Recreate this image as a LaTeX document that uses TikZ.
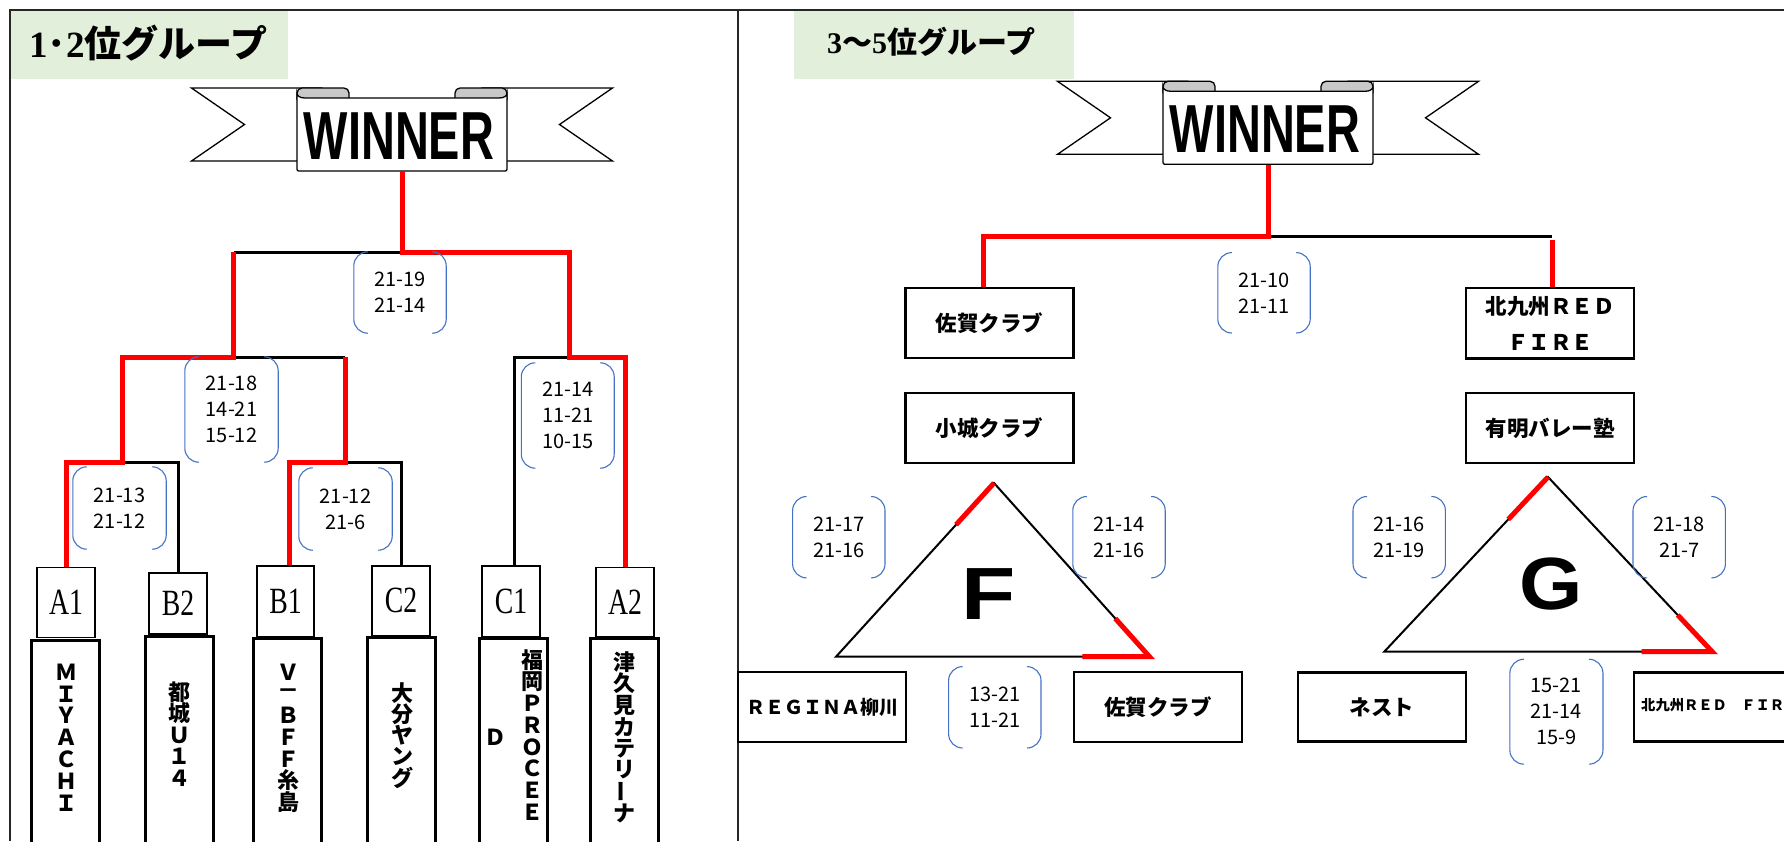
\documentclass[tikz,border=0pt]{standalone}
\usepackage{fontspec}
\usepackage{graphicx}
\usetikzlibrary{calc}
\newfontfamily\cjk{Noto Sans CJK JP}
\newfontfamily\lsans{Liberation Sans}
\newfontfamily\lserif{Liberation Serif}
\definecolor{tgreen}{HTML}{E2EFDA}
\definecolor{brkblue}{HTML}{4472C4}
\definecolor{tabgray}{HTML}{C8C8C8}
\newcommand\fs[1]{\fontsize{#1}{#1}\selectfont}
\newcommand\labtxt[1]{\scalebox{0.75}[1]{#1}}
\tikzset{
  frameline/.style={line width=1.8pt, black!85},
  bk/.style={line width=3pt, black},
  rd/.style={line width=5pt, red},
  brk/.style={draw=brkblue, line width=1.1pt, rounded corners=14pt},
  score/.style={inner sep=0pt, align=center, font=\cjk\fontsize{20}{26}\selectfont},
  lab/.style={draw, line width=1.4pt, inner sep=0pt, minimum width=58pt, font=\lserif\fs{37}},
  tall/.style={draw, fill=white, line width=3pt, inner sep=0pt, minimum width=68pt, minimum height=240pt, anchor=north},
  vch/.style={inner sep=0pt, font=\cjk\bfseries\fs{22}},
  team/.style={draw, fill=white, line width=2.5pt, inner sep=0pt, minimum width=168pt, minimum height=70pt, font=\cjk\bfseries\fs{21.5}, align=center},
  ribbon/.style={fill=white, draw=black, line width=1.3pt},
  tabs/.style={fill=tabgray, draw=black, line width=1.3pt, rounded corners=5pt},
  wbox/.style={fill=white, draw=black, line width=1.3pt},
  wintext/.style={inner sep=0pt, font=\lsans\bfseries\fs{68}},
  tri/.style={line width=2pt, black},
  bigl/.style={inner sep=0pt, font=\lsans\bfseries\fs{74}},
  ttl/.style={anchor=west, inner sep=0pt}
}
\newcommand\score[5]{%
  \node[score, minimum width=#3, minimum height=#4] (#1) at #2 {#5};
  \draw[brk] ([xshift=14pt]#1.north west) -- (#1.north west) -- (#1.south west) -- ([xshift=14pt]#1.south west);
  \draw[brk] ([xshift=-14pt]#1.north east) -- (#1.north east) -- (#1.south east) -- ([xshift=-14pt]#1.south east);
}
\newcommand\banner[3]{%
  \begin{scope}[shift={#2}]
    \filldraw[ribbon] (-80,-44) -- (-210.5,-44) -- (-157.5,-7.5) -- (-210.5,29) -- (-80,29) -- cycle;
    \filldraw[ribbon] (80,-44) -- (210.5,-44) -- (157.5,-7.5) -- (210.5,29) -- (80,29) -- cycle;
    \filldraw[tabs] (-105,-28) -- (-105,-44) -- (-53,-44) -- (-53,-28) -- cycle;
    \filldraw[tabs] (53,-28) -- (53,-44) -- (105,-44) -- (105,-28) -- cycle;
    \filldraw[wbox] (-97,-34) .. controls (-102,-34) and (-105,-36) .. (-105,-39) -- (-105,35)
      .. controls (-105,39) .. (-101,39) -- (101,39) .. controls (105,39) .. (105,35) -- (105,-39)
      .. controls (105,-36) and (102,-34) .. (97,-34) -- cycle;
    \node[minimum width=210pt, minimum height=78pt, inner sep=0pt] (#1) at (0,0) {};
    \node[wintext] (#3) at (-3,4) {\scalebox{0.69}[1]{WINNER}};
  \end{scope}}
\newcommand\vcol[5]{%
  \foreach \c [count=\i from 0] in {#5} {\node[vch] (#1\i) at (#2, #3+\i*#4) {\c};}}
\begin{document}
\begin{tikzpicture}[x=1pt,y=-1pt]
\useasboundingbox (0,0) rectangle (1784,841);
\clip (0,0) rectangle (1784,841);
\fill[white] (0,0) rectangle (1784,841);
% title areas
\fill[tgreen] (11,11) rectangle (288,79);
\fill[tgreen] (794,11) rectangle (1074,79);
\node[ttl, font=\cjk\bfseries\fs{37}] (title1) at (29,43) {{\lserif\bfseries 1}･{\lserif\bfseries 2}位グループ};
\node[ttl, font=\cjk\bfseries\fs{30}] (title2) at (827,42) {{\lserif\bfseries 3}～{\lserif\bfseries 5}位グループ};
% frame
\draw[frameline] (10,841) -- (10,10) -- (1784,10);
\draw[frameline] (738,10) -- (738,841);
% banners
\banner{winL}{(402,132)}{winLt}
\banner{winR}{(1268,125.3)}{winRt}

% ===== left group =====
\node[lab, minimum height=70] (A1) at (66,602.7) {\labtxt{A1}};
\node[lab, minimum height=61] (B2) at (178,603.5) {\labtxt{B2}};
\node[lab, minimum width=57, minimum height=70.7] (B1) at (285.5,601.3) {\labtxt{B1}};
\node[lab, minimum height=69.7] (C2) at (401,600.8) {\labtxt{C2}};
\node[lab, minimum height=70.7] (C1) at (511,601.3) {\labtxt{C1}};
\node[lab, minimum height=69] (A2) at (625,602.2) {\labtxt{A2}};

\node[tall] (T1) at (65,638.7) {};
\node[tall] (T2) at (179.5,635) {};
\node[tall] (T3) at (287.5,637) {};
\node[tall] (T4) at (401,636) {};
\node[tall] (T5) at (513.75,637) {};
\node[tall] (T6) at (624,637) {};

\vcol{va}{66}{672}{21.8}{Ｍ,Ｉ,Ｙ,Ａ,Ｃ,Ｈ,Ｉ}
\vcol{vb}{179}{692}{21.5}{都,城,Ｕ,１,４}
\vcol{vc}{288}{672}{21.7}{Ｖ,－,Ｂ,Ｆ,Ｆ,糸,島}
\vcol{vd}{402}{693}{21.3}{大,分,ヤ,ン,グ}
\vcol{ve}{532}{660}{21.7}{福,岡,Ｐ,Ｒ,Ｏ,Ｃ,Ｅ,Ｅ}
\node[vch] (vf) at (495,737) {Ｄ};
\vcol{vg}{624}{662}{21.6}{津,久,見,カ,テ,リ,{\rotatebox[origin=c]{90}{ー}},ナ}

% bracket
\coordinate (yL1) at (0,252);
\coordinate (yL2) at (0,357);
\coordinate (yL3) at (0,462);
\coordinate (pA1) at (A1.north);
\coordinate (pB2) at (B2.north);
\coordinate (pB1) at ([xshift=3.5pt]B1.north);
\coordinate (pC2) at (C2.north);
\coordinate (pC1) at ([xshift=3pt]C1.north);
\coordinate (pA2) at (A2.north);
\coordinate (m1) at ($(pA1|-yL3)!0.5!(pB2|-yL3)$);
\coordinate (m2) at ($(pB1|-yL3)!0.5!(pC2|-yL3)$);
\coordinate (m3) at ($(pC1|-yL2)!0.5!(pA2|-yL2)$);
\coordinate (m12) at ($(m1|-yL2)!0.5!(m2|-yL2)$);

\draw[bk] (pB2) -- (pB2|-yL3) -- (m1);
\draw[bk] (pC2) -- (pC2|-yL3) -- (m2);
\draw[bk] (pC1) -- (pC1|-yL2) -- (m3);
\draw[bk] (m2|-yL2) -- (m12);
\draw[bk] (m12|-yL1) -- (winL.south|-yL1);

\draw[rd] (pA1) -- (pA1|-yL3) -- (m1) -- (m1|-yL2) -- (m12) -- (m12|-yL1);
\draw[rd] (pB1) -- (pB1|-yL3) -- (m2) -- (m2|-yL2);
\draw[rd] (winL.south) -- (winL.south|-yL1) -- (m3|-yL1) -- (m3) -- (pA2|-yL2) -- (pA2);

\score{s1}{(400,292.5)}{92}{81}{21-19\\21-14}
\score{s2}{(231.5,409.5)}{93}{105}{21-18\\14-21\\15-12}
\score{s3}{(567.75,415.5)}{92.5}{105}{21-14\\11-21\\10-15}
\score{s4}{(119.5,508)}{93}{82}{21-13\\21-12}
\score{s5}{(345.5,509)}{93}{82}{21-12\\21-6}

% ===== right group =====
\node[team] (sagaT) at (989.5,323) {佐賀クラブ};
\node[team] (ogi) at (989.5,428) {小城クラブ};
\node[team, font=\cjk\bfseries\fontsize{21.5}{35.7}\selectfont, minimum height=70.6] (kitaT) at (1550,323.3) {北九州ＲＥＤ\\ＦＩＲＥ};
\node[team] (ariake) at (1550,428) {有明バレー塾};
\node[team, font=\cjk\bfseries\fs{19}, minimum height=69.7] (regina) at (822,706.9) {ＲＥＧＩＮＡ柳川};
\node[team, minimum height=69.7] (sagaB) at (1158,706.9) {佐賀クラブ};
\node[team, minimum height=69] (nest) at (1382,706.9) {ネスト};
\node[team, minimum height=69.4] (kitaB) at (1718,707) {};
\node[anchor=west, inner sep=0pt, font=\cjk\bfseries\fs{14.3}] (kitaBt) at (1641,705) {北九州ＲＥＤ　ＦＩＲＥ};

\coordinate (yR) at (0,236.5);
\coordinate (pS) at ([xshift=-6.5pt]sagaT.north);
\coordinate (pK) at ([xshift=2pt]kitaT.north);
\draw[bk] (winR.south|-yR) -- (pK|-yR);
\draw[rd] (winR.south) -- (winR.south|-yR) -- (pS|-yR) -- (pS);
\draw[rd] ([yshift=-3pt]pK|-yR) -- (pK);

% triangles
\coordinate (Fa) at (994,483);
\coordinate (Fl) at (836,656.7);
\coordinate (Fr) at (1149.5,656.7);
\coordinate (Ga) at (1548,477);
\coordinate (Gl) at (1384.4,651.5);
\coordinate (Gr) at (1712,651.5);
\draw[tri] (Fa) -- (Fl) -- (Fr) -- cycle;
\draw[tri] (Ga) -- (Gl) -- (Gr) -- cycle;
\draw[rd] ($(Fa)!0.24!(Fl)$) -- (Fa);
\draw[rd] ($(Fr)!0.22!(Fa)$) -- (Fr) -- ($(Fr)!0.214!(Fl)$);
\draw[rd] ($(Ga)!0.243!(Gl)$) -- (Ga);
\draw[rd] ($(Gr)!0.209!(Ga)$) -- (Gr) -- ($(Gr)!0.215!(Gl)$);
\node[bigl] (Flab) at (989,594.5) {\scalebox{1.2}[1]{F}};
\node[bigl] (Glab) at (1551.5,584) {\scalebox{1.1}[1]{G}};

\score{s6}{(1264,292.8)}{92}{80}{21-10\\21-11}
\score{s7}{(838.8,537.2)}{92}{81}{21-17\\21-16}
\score{s8}{(1119,537.2)}{92}{81}{21-14\\21-16}
\score{s9}{(994.8,707.3)}{92}{81}{13-21\\11-21}
\score{s10}{(1399.2,537.2)}{92}{81}{21-16\\21-19}
\score{s11}{(1679.2,537.2)}{92}{81}{21-18\\21-7}
\score{s12}{(1556.4,711.7)}{92.7}{104.5}{15-21\\21-14\\15-9}
\end{tikzpicture}
\end{document}
